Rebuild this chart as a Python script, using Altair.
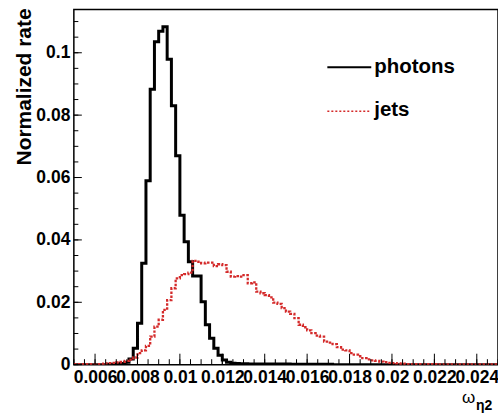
import altair as alt
import pandas as pd

# ---- data ----
bin_low = 0.005
bin_width = 0.0002
n_bins = 100

photons = [
    0, 0, 0, 0, 0, 0, 0, 0, 0.0001, 0.0001,
    0.0002, 0.0004, 0.0008, 0.0018, 0.0053, 0.0133, 0.0325, 0.059, 0.0883, 0.1035,
    0.1069, 0.1083, 0.0979, 0.083, 0.067, 0.0479, 0.0394, 0.033, 0.0284, 0.0284,
    0.0202, 0.0128, 0.0085, 0.0053, 0.003, 0.0015, 0.0008, 0.0005, 0.0004, 0.0003,
    0.0003, 0.0002, 0.0002, 0.0002, 0.0002, 0.0002, 0.0002, 0.0002, 0.0002, 0.0002,
    0.0002, 0.0001, 0.0001, 0.0001, 0.0001, 0.0001, 0.0001, 0.0001, 0.0001, 0.0001,
    0.0001, 0, 0, 0, 0, 0, 0, 0, 0, 0,
    0, 0, 0, 0, 0, 0, 0, 0, 0, 0,
    0, 0, 0, 0, 0, 0, 0, 0, 0, 0,
    0, 0, 0, 0, 0, 0, 0, 0, 0, 0,
]

jets = [
    0.0002, 0.0002, 0.0002, 0.0002, 0.0002, 0.0002, 0.0002, 0.0004, 0.0005, 0.0006,
    0.0007, 0.0009, 0.0012, 0.0016, 0.0023, 0.0037, 0.0046, 0.006, 0.009, 0.0122,
    0.0144, 0.0176, 0.0207, 0.0245, 0.0277, 0.0287, 0.029, 0.0295, 0.0333, 0.033,
    0.0325, 0.0327, 0.0327, 0.0316, 0.0322, 0.0319, 0.0298, 0.0282, 0.0284, 0.0282,
    0.0287, 0.0261, 0.0264, 0.0234, 0.0229, 0.0223, 0.0216, 0.0199, 0.0195, 0.0181,
    0.017, 0.0163, 0.0149, 0.0128, 0.012, 0.011, 0.0101, 0.0093, 0.009, 0.0074,
    0.0071, 0.0066, 0.0056, 0.0048, 0.0046, 0.0037, 0.0032, 0.0027, 0.0021, 0.0017,
    0.0014, 0.0012, 0.001, 0.0008, 0.0006, 0.0005, 0.0004, 0.0003, 0.0002, 0.0002,
    0.0002, 0.0002, 0.0002, 0.0002, 0.0002, 0.0002, 0.0001, 0.0001, 0.0001, 0.0001,
    0.0001, 0.0001, 0.0001, 0.0001, 0.0001, 0.0001, 0.0001, 0.0001, 0.0001, 0.0001,
]

x_major_ticks = [0.006, 0.008, 0.010, 0.012, 0.014, 0.016, 0.018, 0.020, 0.022, 0.024]
x_minor_ticks = [round(0.005 + 0.0005 * i, 5) for i in range(41)]
y_major_ticks = [0, 0.02, 0.04, 0.06, 0.08, 0.10]
y_minor_ticks = [round(0.005 * i, 4) for i in range(23)]

series_names = ["photons", "jets"]
y_title = "Normalized rate"
x_title_main = "ω"
x_title_sub = "η2"

FONT = "Liberation Sans"
RED = "#d42a2a"

edges = [round(bin_low + bin_width * i, 6) for i in range(n_bins + 1)]


def steps(vals):
    return pd.DataFrame({"x": edges, "y": list(vals) + [vals[-1]]})


xs = alt.Scale(domain=[0.005, 0.025], nice=False, zero=False)
ys = alt.Scale(domain=[0, 0.1139], nice=False, zero=False)

x_axis = alt.Axis(values=x_major_ticks, format="~g", ticks=False, tickSize=0,
                  domain=False, grid=False, labelPadding=4, title=None,
                  labelFlush=False, labelOverlap=False)
y_axis = alt.Axis(values=y_major_ticks, format="~g", ticks=False, tickSize=0,
                  domain=False, grid=False, labelPadding=4, title=None,
                  labelOverlap=False)


def X(field):
    return alt.X(field, scale=xs, axis=x_axis)


def Y(field):
    return alt.Y(field, scale=ys, axis=y_axis)


photon_line = alt.Chart(steps(photons)).mark_line(
    interpolate="step-after", color="black", strokeWidth=3, clip=True
).encode(x=X("x:Q"), y=Y("y:Q"))

jet_line = alt.Chart(steps(jets)).mark_line(
    interpolate="step-after", color=RED, strokeWidth=2.3, strokeDash=[2.5, 1.5], clip=True
).encode(x=X("x:Q"), y=Y("y:Q"))

# inward ticks (ROOT style)
xmaj = alt.Chart(pd.DataFrame({"v": x_major_ticks})).mark_rule(color="black", strokeWidth=1).encode(
    x=X("v:Q"), y=alt.value(356), y2=alt.value(345))
xmin = alt.Chart(pd.DataFrame({"v": x_minor_ticks})).mark_rule(color="black", strokeWidth=1).encode(
    x=X("v:Q"), y=alt.value(356), y2=alt.value(350.5))
ymaj = alt.Chart(pd.DataFrame({"v": y_major_ticks})).mark_rule(color="black", strokeWidth=1).encode(
    y=Y("v:Q"), x=alt.value(0), x2=alt.value(8))
ymin = alt.Chart(pd.DataFrame({"v": y_minor_ticks})).mark_rule(color="black", strokeWidth=1).encode(
    y=Y("v:Q"), x=alt.value(0), x2=alt.value(4.5))

one = pd.DataFrame({"a": [0]})

leg_line_ph = alt.Chart(one).mark_rule(color="black", strokeWidth=2).encode(
    x=alt.value(254), x2=alt.value(298), y=alt.value(58))
leg_line_jet = alt.Chart(one).mark_rule(color=RED, strokeWidth=1.5, strokeDash=[2, 2]).encode(
    x=alt.value(254), x2=alt.value(298), y=alt.value(102))
leg_txt_ph = alt.Chart(pd.DataFrame({"name": [series_names[0]]})).mark_text(
    align="left", baseline="alphabetic", font=FONT, fontWeight="bold", fontSize=20.5, color="black"
).encode(x=alt.value(301), y=alt.value(64), text="name:N")
leg_txt_jet = alt.Chart(pd.DataFrame({"name": [series_names[1]]})).mark_text(
    align="left", baseline="alphabetic", font=FONT, fontWeight="bold", fontSize=20.5, color="black"
).encode(x=alt.value(301), y=alt.value(107), text="name:N")

ytitle = alt.Chart(pd.DataFrame({"t": [y_title]})).mark_text(
    angle=270, align="right", baseline="alphabetic", font=FONT, fontWeight="bold", fontSize=21, color="black"
).encode(x=alt.value(-43), y=alt.value(-1), text="t:N")

xtitle_main = alt.Chart(pd.DataFrame({"t": [x_title_main]})).mark_text(
    align="left", baseline="alphabetic", font=FONT, fontSize=17, color="black"
).encode(x=alt.value(389), y=alt.value(394), text="t:N")
xtitle_sub = alt.Chart(pd.DataFrame({"t": [x_title_sub]})).mark_text(
    align="left", baseline="alphabetic", font=FONT, fontWeight="bold", fontSize=14, color="black"
).encode(x=alt.value(403), y=alt.value(401), text="t:N")

chart = alt.layer(
    photon_line, jet_line, xmin, xmaj, ymin, ymaj,
    leg_line_ph, leg_line_jet, leg_txt_ph, leg_txt_jet,
    ytitle, xtitle_main, xtitle_sub,
).properties(
    width=425, height=356,
    autosize=alt.AutoSizeParams(type="none"),
    padding={"left": 74, "top": 9, "right": 0, "bottom": 48},
    background="white",
).configure_view(
    stroke="black", strokeWidth=1.5
).configure_axis(
    labelFont=FONT, labelFontWeight="bold", labelFontSize=17.5, labelColor="black"
)

chart.save("out.html", embed_options={"renderer": "svg", "actions": False})
